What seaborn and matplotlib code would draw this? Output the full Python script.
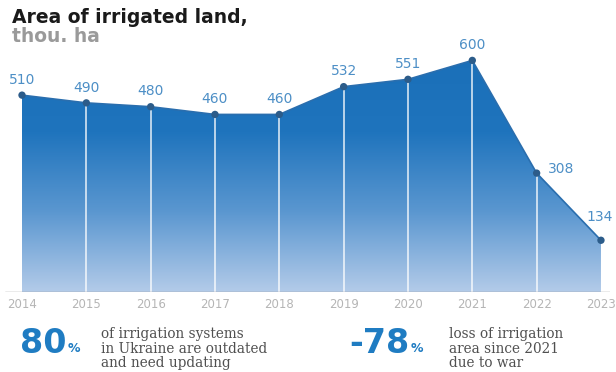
import numpy as np
import pandas as pd
import matplotlib
matplotlib.use("Agg")
import matplotlib.pyplot as plt
from matplotlib.colors import LinearSegmentedColormap
import seaborn as sns

years = ["2014", "2015", "2016", "2017", "2018", "2019", "2020", "2021", "2022", "2023"]
area = [510, 490, 480, 460, 460, 532, 551, 600, 308, 134]
title = "Area of irrigated land,"
subtitle = "thou. ha"

sns.set_theme(style="white")
plt.rcParams["font.family"] = ["DejaVu Sans"]

df = pd.DataFrame({"pos": np.arange(len(years)), "area": area})

fig = plt.figure(figsize=(6.16, 3.72), dpi=100)
ax = fig.add_axes([5 / 616, 1 - 292 / 372, 605 / 616, 252 / 372])
x0, x1 = -17 / 64.33, (610 - 22) / 64.33
ax.set_xlim(x0, x1)
ax.set_ylim(0, 252 / 0.386)

# gradient fill under the line
cmap = LinearSegmentedColormap.from_list("blues", ["#b3cbe9", "#5b97d0", "#1f74bd", "#1a6fb8"])
grad = np.linspace(0, 1, 256).reshape(-1, 1)
img = ax.imshow(grad, cmap=cmap, aspect="auto", origin="lower",
                extent=(df.pos.min(), df.pos.max(), 0, 620), zorder=1)
poly = ax.fill_between(df.pos, 0, df.area, color="none", lw=0)
clip = poly.get_paths()[0]
img.set_clip_path(clip, transform=ax.transData)

# white drop lines
for p, v in zip(df.pos[1:-1], df.area[1:-1]):
    ax.plot([p, p], [0, v], color="white", alpha=0.75, lw=1.3, zorder=2)

sns.lineplot(data=df, x="pos", y="area", ax=ax, color="#2a6eae", lw=1.2, zorder=3)
sns.scatterplot(data=df, x="pos", y="area", ax=ax, color="#2c5c8a", s=28,
                edgecolor="none", zorder=4)

# value labels
lab_col = "#4d8fc6"
for p, v in zip(df.pos, df.area):
    if p == 8:
        ax.annotate(str(v), (p, v), xytext=(8, 3), textcoords="offset points",
                    ha="left", va="center", color=lab_col, fontsize=10)
    elif p == 9:
        ax.annotate(str(v), (p, v), xytext=(-1, 12), textcoords="offset points",
                    ha="center", va="bottom", color=lab_col, fontsize=10)
    else:
        ax.annotate(str(v), (p, v), xytext=(0, 6), textcoords="offset points",
                    ha="center", va="bottom", color=lab_col, fontsize=10)

ax.axhline(0, color="#9a9a9a", lw=1.0, zorder=5)
ax.set_xticks(df.pos)
ax.set_xticklabels(years, color="#b5b5b5", fontsize=8.5)
ax.tick_params(axis="x", length=0, pad=4)
ax.set_yticks([])
ax.set_xlabel("")
ax.set_ylabel("")
for s in ax.spines.values():
    s.set_visible(False)
ax.patch.set_alpha(0)

# headings
fig.text(12 / 616, 1 - 8 / 372, title, ha="left", va="top", fontsize=13.5,
         fontweight="bold", color="#1a1a1a")
fig.text(12 / 616, 1 - 27 / 372, subtitle, ha="left", va="top", fontsize=13.5,
         fontweight="bold", color="#9a9a9a")

# bottom facts
blue = "#1f7cc2"
serif = ["DejaVu Serif"]
renderer = fig.canvas.get_renderer()


def fact(x_num, x_text, number, note):
    t = fig.text(x_num / 616, 1 - 353 / 372, number, ha="left", va="baseline",
                 fontsize=24, fontweight="heavy", color=blue)
    right = t.get_window_extent(renderer).x1
    fig.text(right / fig.bbox.width + 1 / 616, 1 - 352 / 372, "%", ha="left",
             va="baseline", fontsize=9, fontweight="bold", color=blue)
    fig.text(x_text / 616, 1 - 327 / 372, note, ha="left", va="top",
             fontsize=9.8, color="#505050", family=serif, linespacing=1.05)


fact(20, 101, "80", "of irrigation systems\nin Ukraine are outdated\nand need updating")
fact(349, 449, "-78", "loss of irrigation\narea since 2021\ndue to war")

fig.savefig("out.png", dpi=100)
